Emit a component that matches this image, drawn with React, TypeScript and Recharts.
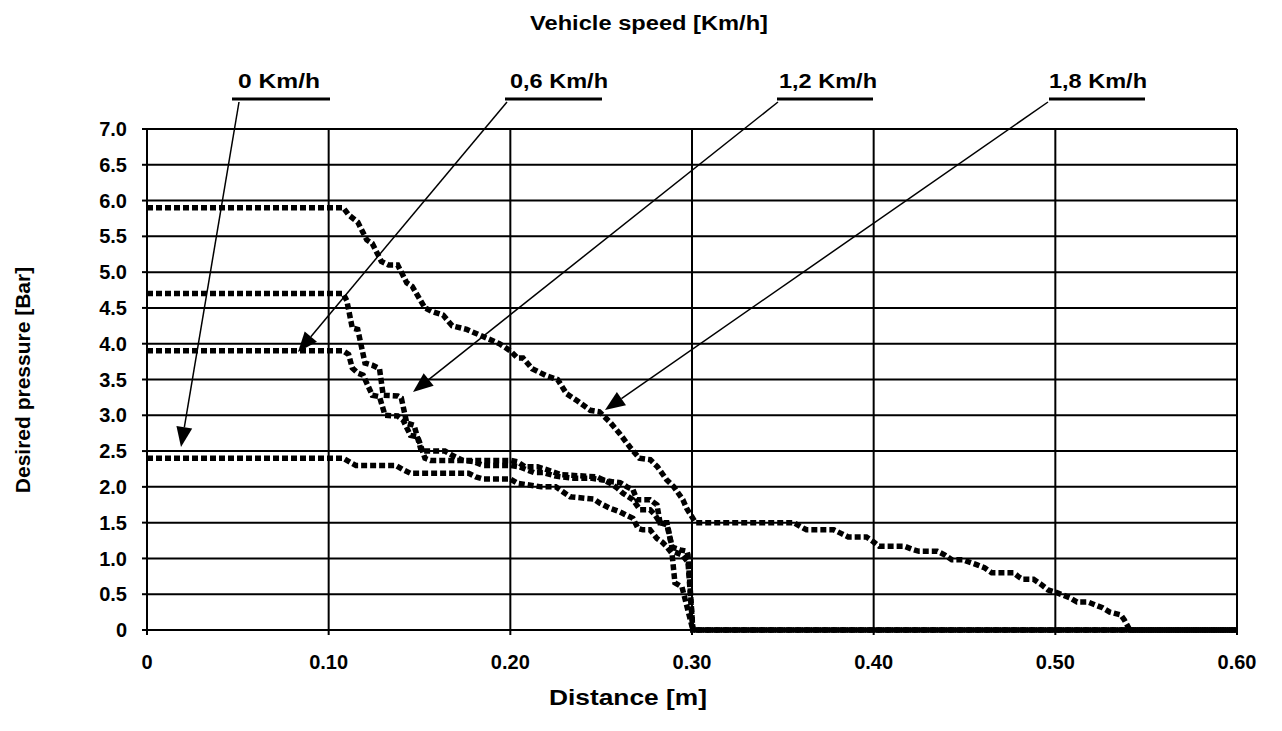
import React from 'react';
import { LineChart, Line, XAxis, YAxis, CartesianGrid } from 'recharts';

// ---------- data ----------
const xTicks = [0, 0.1, 0.2, 0.3, 0.4, 0.5, 0.6];
const yTicks = [0, 0.5, 1, 1.5, 2, 2.5, 3, 3.5, 4, 4.5, 5, 5.5, 6, 6.5, 7];
const speedLabels = ['0 Km/h', '0,6 Km/h', '1,2 Km/h', '1,8 Km/h'];

// 0 Km/h
const dist0 = [0, 0.108, 0.112, 0.115, 0.137, 0.141, 0.145, 0.177, 0.181, 0.185, 0.2, 0.204, 0.217, 0.225, 0.229, 0.233, 0.246, 0.2494, 0.2549, 0.2604, 0.2642, 0.2675, 0.2703, 0.273, 0.2769, 0.2807, 0.2835, 0.2862, 0.289, 0.2906, 0.2945, 0.3005, 0.6];
const press0 = [2.4, 2.4, 2.34, 2.3, 2.3, 2.24, 2.19, 2.19, 2.14, 2.11, 2.11, 2.05, 2.0, 2.0, 1.93, 1.86, 1.83, 1.77, 1.7, 1.65, 1.6, 1.56, 1.42, 1.4, 1.4, 1.28, 1.23, 1.16, 1.07, 0.66, 0.6, 0, 0];

// 0,6 Km/h
const dist06 = [0, 0.108, 0.111, 0.113, 0.116, 0.119, 0.124, 0.128, 0.131, 0.138, 0.141, 0.145, 0.149, 0.153, 0.156, 0.2, 0.204, 0.208, 0.215, 0.22, 0.228, 0.2477, 0.255, 0.259, 0.262, 0.2675, 0.2714, 0.2769, 0.2796, 0.2824, 0.2862, 0.2895, 0.2945, 0.2978, 0.3005, 0.6];
const press06 = [3.9, 3.9, 3.85, 3.66, 3.59, 3.56, 3.28, 3.26, 3.0, 2.99, 2.93, 2.72, 2.7, 2.4, 2.37, 2.37, 2.35, 2.28, 2.28, 2.24, 2.17, 2.14, 2.05, 1.98, 1.91, 1.82, 1.68, 1.68, 1.61, 1.5, 1.47, 1.1, 1.05, 0.95, 0, 0];

// 1,2 Km/h
const dist12 = [0, 0.108, 0.11, 0.113, 0.116, 0.12, 0.124, 0.128, 0.13, 0.138, 0.14, 0.143, 0.147, 0.151, 0.164, 0.168, 0.174, 0.18, 0.185, 0.2, 0.205, 0.213, 0.218, 0.225, 0.235, 0.245, 0.25, 0.2565, 0.2604, 0.2642, 0.2675, 0.2697, 0.2769, 0.2807, 0.2824, 0.2862, 0.289, 0.2934, 0.2972, 0.2978, 0.3005, 0.6];
const press12 = [4.7, 4.7, 4.6, 4.22, 4.2, 3.73, 3.7, 3.65, 3.28, 3.27, 3.24, 2.89, 2.86, 2.5, 2.5, 2.44, 2.37, 2.35, 2.3, 2.3, 2.28, 2.2, 2.2, 2.15, 2.12, 2.12, 2.1, 2.07, 2.06, 2.0, 1.96, 1.82, 1.82, 1.75, 1.5, 1.5, 1.16, 1.12, 1.1, 1.05, 0, 0];

// 1,8 Km/h
const dist18 = [0, 0.108, 0.111, 0.116, 0.121, 0.124, 0.129, 0.133, 0.138, 0.143, 0.146, 0.153, 0.157, 0.163, 0.168, 0.176, 0.185, 0.194, 0.2, 0.204, 0.207, 0.212, 0.22, 0.226, 0.231, 0.237, 0.244, 0.249, 0.255, 0.26, 0.266, 0.271, 0.277, 0.281, 0.286, 0.29, 0.295, 0.297, 0.302, 0.356, 0.36, 0.363, 0.378, 0.382, 0.386, 0.396, 0.4, 0.403, 0.417, 0.421, 0.425, 0.435, 0.439, 0.443, 0.449, 0.457, 0.461, 0.465, 0.477, 0.48, 0.482, 0.488, 0.492, 0.496, 0.5, 0.504, 0.508, 0.512, 0.518, 0.522, 0.526, 0.53, 0.536, 0.538, 0.541, 0.6];
const press18 = [5.9, 5.9, 5.8, 5.7, 5.45, 5.4, 5.15, 5.1, 5.1, 4.85, 4.8, 4.5, 4.45, 4.4, 4.25, 4.2, 4.1, 4.0, 3.9, 3.8, 3.8, 3.65, 3.55, 3.5, 3.3, 3.2, 3.07, 3.05, 2.9, 2.75, 2.55, 2.4, 2.38, 2.28, 2.1, 2.0, 1.82, 1.7, 1.5, 1.5, 1.44, 1.4, 1.4, 1.35, 1.3, 1.3, 1.23, 1.17, 1.17, 1.13, 1.1, 1.1, 1.05, 0.98, 0.98, 0.91, 0.87, 0.8, 0.8, 0.74, 0.71, 0.71, 0.64, 0.56, 0.53, 0.49, 0.45, 0.39, 0.39, 0.35, 0.31, 0.25, 0.21, 0.14, 0, 0];

const toRows = (xs: number[], ys: number[]) => xs.map((x, i) => ({ x, y: ys[i] }));
const series = [
  { name: speedLabels[0], rows: toRows(dist0, press0) },
  { name: speedLabels[1], rows: toRows(dist06, press06) },
  { name: speedLabels[2], rows: toRows(dist12, press12) },
  { name: speedLabels[3], rows: toRows(dist18, press18) },
];

// ---------- annotation layout (pixels) ----------
const FONT = '"Liberation Sans", Arial, sans-serif';
const annotations = [
  { label: speedLabels[0], tx1: 238, tx2: 320, ux1: 232, ux2: 330, sx: 239, tipX: 181, tipY: 447 },
  { label: speedLabels[1], tx1: 510, tx2: 608, ux1: 505, ux2: 602, sx: 507, tipX: 298, tipY: 352 },
  { label: speedLabels[2], tx1: 779, tx2: 877, ux1: 777, ux2: 873, sx: 778, tipX: 413, tipY: 392 },
  { label: speedLabels[3], tx1: 1049, tx2: 1147, ux1: 1049, ux2: 1145, sx: 1048, tipX: 605, tipY: 410 },
];

function arrow(x1: number, y1: number, x2: number, y2: number, len = 20, half = 8) {
  const dx = x2 - x1, dy = y2 - y1;
  const L = Math.hypot(dx, dy);
  const ux = dx / L, uy = dy / L;
  const bx = x2 - ux * len, by = y2 - uy * len;
  return {
    bx, by,
    pts: `${x2},${y2} ${bx - uy * half},${by + ux * half} ${bx + uy * half},${by - ux * half}`,
  };
}

export default function App() {
  const tickStyle = { fill: '#000', fontSize: 20, fontWeight: 700, fontFamily: FONT };
  return (
    <div style={{ position: 'absolute', left: 0, top: 0, width: 1282, height: 731, background: '#fff' }}>
      <LineChart width={1282} height={731} margin={{ top: 129, right: 45, bottom: 61, left: 87 }}>
        <CartesianGrid stroke="#000" strokeWidth={2} strokeOpacity={1} />
        <XAxis
          type="number"
          dataKey="x"
          domain={[0, 0.6]}
          ticks={xTicks}
          height={40}
          tickSize={5}
          tickMargin={20}
          axisLine={{ stroke: '#000', strokeWidth: 2 }}
          tickLine={{ stroke: '#000', strokeWidth: 2 }}
          tick={tickStyle}
          tickFormatter={(v: number) => (v === 0 ? '0' : v.toFixed(2))}
          allowDataOverflow
        />
        <YAxis
          type="number"
          dataKey="y"
          domain={[0, 7]}
          ticks={yTicks}
          width={60}
          tickSize={5}
          tickMargin={15}
          axisLine={{ stroke: '#000', strokeWidth: 2 }}
          tickLine={{ stroke: '#000', strokeWidth: 2 }}
          tick={tickStyle}
          tickFormatter={(v: number) => (v === 0 ? '0' : v.toFixed(1))}
          interval={0}
        />
        {series.map((s) => (
          <Line
            key={s.name}
            name={s.name}
            data={s.rows}
            dataKey="y"
            type="linear"
            stroke="#000"
            strokeWidth={5.5}
            strokeDasharray="6 3"
            dot={false}
            activeDot={false}
            isAnimationActive={false}
          />
        ))}
      </LineChart>
      <svg
        width={1282}
        height={731}
        style={{ position: 'absolute', left: 0, top: 0, pointerEvents: 'none' }}
        fontFamily={FONT}
        fontWeight={700}
      >
        <text x={530} y={30} fontSize={20} textLength={238} lengthAdjust="spacingAndGlyphs">
          Vehicle speed [Km/h]
        </text>
        {annotations.map((a) => {
          const ar = arrow(a.sx, 102, a.tipX, a.tipY);
          return (
            <g key={a.label}>
              <text x={a.tx1} y={88} fontSize={20} textLength={a.tx2 - a.tx1} lengthAdjust="spacingAndGlyphs">
                {a.label}
              </text>
              <line x1={a.ux1} y1={99} x2={a.ux2} y2={99} stroke="#000" strokeWidth={3} />
              <line x1={a.sx} y1={102} x2={ar.bx} y2={ar.by} stroke="#000" strokeWidth={1.5} />
              <polygon points={ar.pts} fill="#000" />
            </g>
          );
        })}
        <text x={549} y={705} fontSize={22} textLength={158} lengthAdjust="spacingAndGlyphs">
          Distance [m]
        </text>
        <text x={30} y={380} fontSize={21} textAnchor="middle" transform="rotate(-90 30 380)">
          Desired pressure [Bar]
        </text>
      </svg>
    </div>
  );
}
